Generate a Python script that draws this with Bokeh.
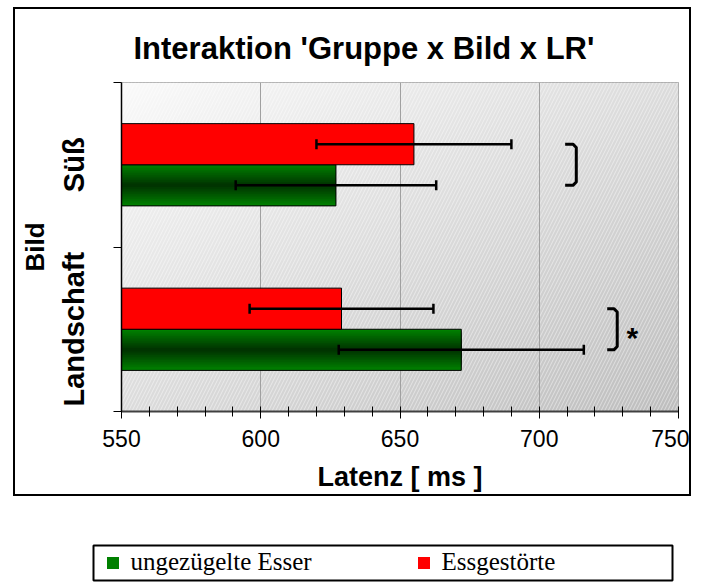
import numpy as np
from bokeh.plotting import figure
from bokeh.layouts import column, row
from bokeh.models import (ColumnDataSource, Whisker, TeeHead, FixedTicker, Spacer,
                          SingleIntervalTicker, Legend, LegendItem, BoxAnnotation)
from bokeh.embed import file_html
from bokeh.resources import INLINE
from bokeh.core.properties import value

# ---------------- data ----------------
title_text = "Interaktion 'Gruppe x Bild x LR'"
categories = ["Landschaft", "Süß"]          # bottom -> top
group_names = ["ungezügelte Esser", "Essgestörte"]
means_esser = [672, 627]                     # green
err_esser = [44, 36]
means_gestoert = [629, 655]                  # red
err_gestoert = [33, 35]
x_start, x_end = 550, 750
x_tick_step = 50
x_label = "Latenz [ ms ]"
y_label = "Bild"
significance = ["*", ""]
bracket_x0 = [724.4, 709.3]
bracket_x1 = [728.0, 713.3]

GREEN = (0, 128, 0)
GREEN_DARK = (0, 52, 0)
RED = "#ff0000"
SANS = "Liberation Sans"
SERIF = "Liberation Serif"

n_cat = len(categories)
bar_h = 0.25
y_centers = np.arange(n_cat) + 0.5
y_red = y_centers + bar_h / 2
y_green = y_centers - bar_h / 2

# chart figure: occupies the bordered box of the reference
p = figure(width=674, height=485, x_range=(x_start, x_end), y_range=(0, n_cat),
           output_backend="svg", toolbar_location=None,
           min_border_left=106, min_border_right=11, min_border_top=73,
           min_border_bottom=81, background_fill_color="white",
           border_fill_color="white",
           styles={"outline": "2px solid black"})

# ---- background gradient + hatch (decoration) ----
nx, ny = 240, 140
xx = np.linspace(0, 1, nx)[None, :]
yy = np.linspace(0, 1, ny)[:, None]
t = 0.5 * xx + 0.5 * (1 - yy)
gray = np.clip(250 - 60 * t, 0, 255).astype(np.uint8)
img = np.empty((ny, nx), dtype=np.uint32)
view = img.view(dtype=np.uint8).reshape((ny, nx, 4))
view[..., 0] = gray
view[..., 1] = gray
view[..., 2] = gray
view[..., 3] = 255
p.image_rgba(image=[img], x=x_start, y=0, dw=x_end - x_start, dh=n_cat, level="image")
p.quad(left=[x_start], right=[x_end], bottom=[0], top=[n_cat], fill_alpha=0,
       line_alpha=0, hatch_pattern="/", hatch_color="white", hatch_alpha=0.45,
       hatch_scale=7, hatch_weight=1, level="image")

# ---- bars ----
N = 12
for k in range(N):
    f = k / (N - 1)
    c = tuple(int(round(GREEN[i] + (GREEN_DARK[i] - GREEN[i]) * f)) for i in range(3))
    p.hbar(y=y_green, left=x_start, right=means_esser, height=bar_h * (1 - k / N),
           fill_color="#%02x%02x%02x" % c, line_color=None)
p.hbar(y=y_green, left=x_start, right=means_esser, height=bar_h,
       fill_color=None, line_color="black", line_width=1)
p.hbar(y=y_red, left=x_start, right=means_gestoert, height=bar_h,
       fill_color=RED, line_color="black", line_width=1)

# ---- error bars ----
for ys, m, e in ((y_red, means_gestoert, err_gestoert), (y_green, means_esser, err_esser)):
    src = ColumnDataSource(dict(y=list(ys),
                                lower=[a - b for a, b in zip(m, e)],
                                upper=[a + b for a, b in zip(m, e)]))
    w = Whisker(source=src, base="y", lower="lower", upper="upper", dimension="width",
                line_color="black", line_width=2.5, level="annotation",
                upper_head=TeeHead(size=10, line_width=2.5, line_color="black"),
                lower_head=TeeHead(size=10, line_width=2.5, line_color="black"))
    p.add_layout(w)

# ---- significance brackets ----
dx, dy = 1.2, 0.02
bxs, bys = [], []
for i in range(n_cat):
    yt, yb = y_red[i], y_green[i]
    x0, x1 = bracket_x0[i], bracket_x1[i]
    bxs.append([x0, x1 - dx, x1, x1, x1 - dx, x0])
    bys.append([yt, yt, yt - dy, yb + dy, yb, yb])
p.multi_line(xs=bxs, ys=bys, line_color="black", line_width=3, line_join="round")
p.text(x=[b + 5.4 for b in bracket_x1], y=list(y_centers), text=significance,
       text_font=value(SANS), text_font_style="bold", text_font_size="30px",
       text_align="center", text_baseline="middle", y_offset=8, text_color="black")

# ---- axes ----
p.xaxis.ticker = SingleIntervalTicker(interval=x_tick_step, num_minor_ticks=5)
p.xaxis.axis_label = x_label
p.xaxis.axis_label_text_font = SANS
p.xaxis.axis_label_text_font_style = "bold"
p.xaxis.axis_label_text_font_size = "27px"
p.xaxis.axis_label_text_color = "black"
p.xaxis.axis_label_standoff = 12
p.xaxis.major_label_text_font = SANS
p.xaxis.major_label_text_font_size = "23px"
p.xaxis.major_label_text_color = "black"
p.xaxis.major_label_standoff = 11
p.xaxis.axis_line_color = "#404040"
p.xaxis.axis_line_width = 2
p.xaxis.major_tick_line_color = "black"
p.xaxis.minor_tick_line_color = "black"
p.xaxis.major_tick_in = 4
p.xaxis.major_tick_out = 7
p.xaxis.minor_tick_in = 5
p.xaxis.minor_tick_out = 5

p.yaxis.ticker = FixedTicker(ticks=list(y_centers), minor_ticks=list(range(n_cat + 1)))
p.yaxis.major_label_overrides = {float(y): c for y, c in zip(y_centers, categories)}
p.yaxis.major_label_orientation = "vertical"
p.yaxis.major_label_text_font = SANS
p.yaxis.major_label_text_font_style = "bold"
p.yaxis.major_label_text_font_size = "29px"
p.yaxis.major_label_text_color = "black"
p.yaxis.major_label_standoff = 24
p.yaxis.major_tick_in = 0
p.yaxis.major_tick_out = 0
p.yaxis.minor_tick_in = 0
p.yaxis.minor_tick_out = 8
p.yaxis.minor_tick_line_color = "black"
p.yaxis.axis_line_color = "black"
p.yaxis.axis_line_width = 1.5
p.yaxis.axis_label = y_label
p.yaxis.axis_label_text_font = SANS
p.yaxis.axis_label_text_font_style = "bold"
p.yaxis.axis_label_text_font_size = "26px"
p.yaxis.axis_label_text_color = "black"
p.yaxis.axis_label_standoff = 5

p.xgrid.grid_line_color = "#a0a0a0"
p.ygrid.grid_line_color = None
p.outline_line_color = "#a0a0a0"

# ---- title ----
p.title.text = title_text
p.title.text_font = SANS
p.title.text_font_style = "bold"
p.title.text_font_size = "31px"
p.title.text_color = "black"
p.title.align = "left"
p.title.offset = 12
p.title.standoff = 34

# ---- legend figure (below the bordered chart) ----
LW, LH = 704, 48
p2 = figure(width=LW, height=LH, x_range=(0, LW), y_range=(0, LH),
            output_backend="svg", toolbar_location=None, min_border=0,
            x_axis_location=None, y_axis_location=None, outline_line_color=None,
            background_fill_color="white", border_fill_color="white")
p2.grid.visible = False
p2.add_layout(BoxAnnotation(left=93, right=672, bottom=LH - 45, top=LH - 10,
                            fill_alpha=0, line_color="black", line_width=2, line_alpha=1))
# zero-size bars: only their styles are shown, as legend swatches
leg_green = p2.hbar(y=[0], left=[0], right=[0], height=0,
                    fill_color="#%02x%02x%02x" % GREEN, line_color=None)
leg_red = p2.hbar(y=[0], left=[0], right=[0], height=0, fill_color=RED, line_color=None)
legend = Legend(items=[LegendItem(label=group_names[0], renderers=[leg_green]),
                       LegendItem(label=group_names[1], renderers=[leg_red])],
                orientation="horizontal", location=(104.5, 7),
                glyph_width=15, glyph_height=15, label_standoff=11, label_width=217,
                spacing=68, padding=0, margin=0, border_line_alpha=0,
                background_fill_alpha=0, label_text_font=SERIF,
                label_text_font_size="25px", label_text_color="black")
p2.add_layout(legend, "center")

layout = column(Spacer(height=9),
                row(Spacer(width=15), p),
                Spacer(height=583 - 9 - 485 - LH),
                p2)

open("out.html", "w").write(file_html(layout, INLINE))
